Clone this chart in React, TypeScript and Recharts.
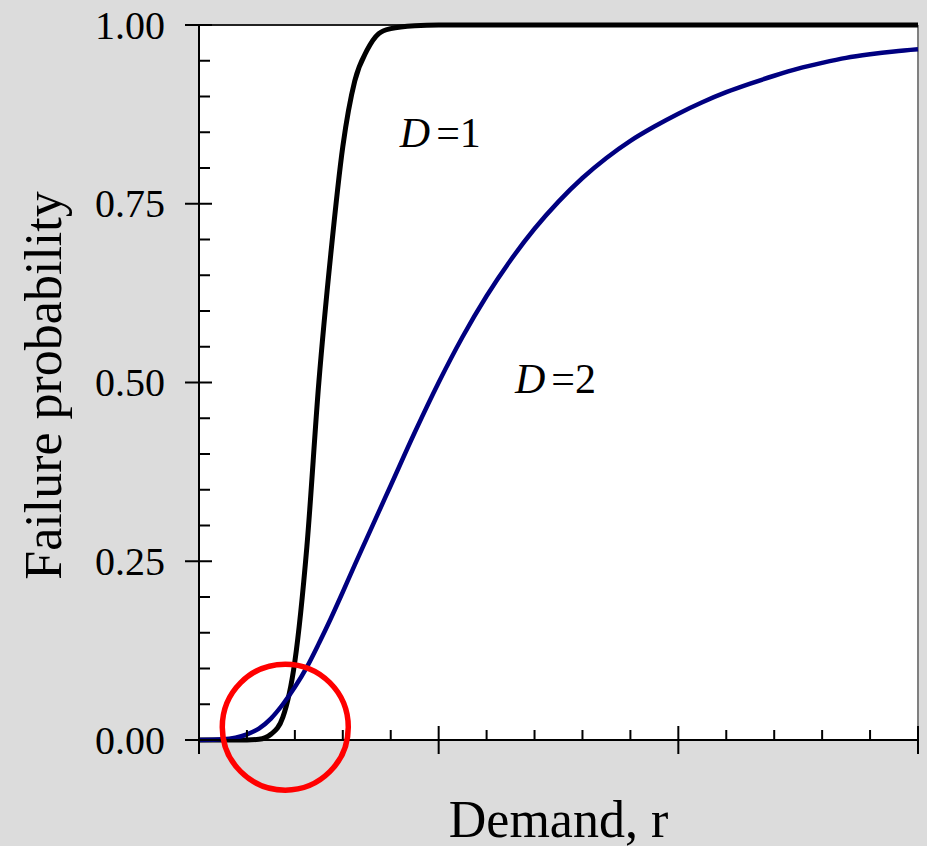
import { LineChart, Line, XAxis, YAxis, CartesianGrid, ReferenceLine, ReferenceDot } from 'recharts';

const FONT = '"Liberation Serif", "Times New Roman", Times, serif';

// demand r (arbitrary units, 0..15) and failure probability for D=1 / D=2
const demand = [0, 0.5, 1, 1.25, 1.5, 1.75, 2, 2.25, 2.5, 2.75, 3, 3.25, 3.5, 3.75, 4, 4.5, 5, 5.5, 6, 6.5, 7, 7.5, 8, 8.5, 9, 9.5, 10, 10.5, 11, 11.5, 12, 12.5, 13, 13.5, 14, 14.5, 15];
const failD1 = [0, 0, 0, 0.001, 0.008, 0.032, 0.11, 0.27, 0.5, 0.68, 0.83, 0.922, 0.964, 0.988, 0.995, 0.999, 1, 1, 1, 1, 1, 1, 1, 1, 1, 1, 1, 1, 1, 1, 1, 1, 1, 1, 1, 1, 1];
const failD2 = [0, 0.001, 0.008, 0.016, 0.03, 0.05, 0.074, 0.102, 0.135, 0.17, 0.207, 0.245, 0.282, 0.319, 0.356, 0.43, 0.5, 0.564, 0.621, 0.671, 0.715, 0.753, 0.786, 0.814, 0.838, 0.858, 0.876, 0.892, 0.906, 0.918, 0.929, 0.939, 0.947, 0.954, 0.959, 0.963, 0.966];

const yTicks = [0, 0.05, 0.1, 0.15, 0.2, 0.25, 0.3, 0.35, 0.4, 0.45, 0.5, 0.55, 0.6, 0.65, 0.7, 0.75, 0.8, 0.85, 0.9, 0.95, 1];
const yMajor = [0, 0.25, 0.5, 0.75, 1];
const xTicks = [0, 1, 2, 3, 4, 5, 6, 7, 8, 9, 10, 11, 12, 13, 14, 15];
const xMajor = [0, 5, 10, 15];

const data = demand.map((r, i) => ({ r, d1: failD1[i], d2: failD2[i] }));

function YTick({ x, y, payload }: any) {
  const v = payload.value;
  const major = yMajor.some((m) => Math.abs(m - v) < 1e-6);
  if (!major) {
    return <line x1={x} x2={x + 11} y1={y} y2={y} stroke="#000" strokeWidth={2} />;
  }
  return (
    <g>
      <line x1={x - 14} x2={x + 13} y1={y} y2={y} stroke="#000" strokeWidth={2} />
      <text x={x - 34} y={y} dy="0.34em" textAnchor="end" fontSize={40} fontFamily={FONT} fill="#000">
        {v.toFixed(2)}
      </text>
    </g>
  );
}

function XTick({ x, y, payload }: any) {
  const major = xMajor.includes(payload.value);
  if (major) return <line x1={x} x2={x} y1={y - 14} y2={y + 14} stroke="#000" strokeWidth={2} />;
  return <line x1={x} x2={x} y1={y} y2={y - 10} stroke="#000" strokeWidth={2} />;
}

const curveLabel = (n: string) => (props: any) => {
  const vb = props.viewBox;
  return (
    <text x={vb.x} y={vb.y} fontSize={42} fontFamily={FONT} fill="#000">
      <tspan fontStyle="italic">D</tspan>
      <tspan dx={6}>={n}</tspan>
    </text>
  );
};

export default function App() {
  return (
    <div style={{ position: 'absolute', left: 0, top: 0, width: 927, height: 846, background: '#dcdcdc' }}>
      <LineChart width={927} height={846} data={data} margin={{ top: 25, right: 9, bottom: 0, left: 0 }}>
        <CartesianGrid fill="#fff" horizontal={false} vertical={false} />
        <XAxis
          dataKey="r"
          type="number"
          domain={[0, 15]}
          ticks={xTicks}
          interval={0}
          height={106}
          tickSize={0}
          tickMargin={0}
          tickLine={false}
          axisLine={{ stroke: '#000', strokeWidth: 2 }}
          tick={(p) => <XTick {...p} />}
          label={{ value: 'Demand, r', position: 'insideBottom', offset: 9, fontSize: 52, fontFamily: FONT, fill: '#000' }}
        />
        <YAxis
          type="number"
          domain={[0, 1]}
          ticks={yTicks}
          interval={0}
          width={199}
          tickSize={0}
          tickMargin={0}
          tickLine={false}
          axisLine={{ stroke: '#000', strokeWidth: 2 }}
          tick={(p) => <YTick {...p} />}
          label={{
            content: (props: any) => {
              const vb = props.viewBox;
              const cx = vb.x + 61;
              const cy = vb.y + vb.height / 2 + 3;
              return (
                <text x={cx} y={cy} transform={`rotate(-90 ${cx} ${cy})`} textAnchor="middle" fontSize={52} fontFamily={FONT} fill="#000">
                  Failure probability
                </text>
              );
            },
          }}
        />
        <ReferenceLine y={1} stroke="#222" strokeWidth={2} />
        <ReferenceLine x={15} stroke="#808080" strokeWidth={2} />
        <Line type="monotone" dataKey="d1" stroke="#000" strokeWidth={5} dot={false} isAnimationActive={false} />
        <Line type="monotone" dataKey="d2" stroke="#000080" strokeWidth={4.5} dot={false} isAnimationActive={false} />
        <ReferenceDot x={4.19} y={0.829} r={0} fill="none" stroke="none" label={curveLabel('1')} />
        <ReferenceDot x={6.59} y={0.485} r={0} fill="none" stroke="none" label={curveLabel('2')} />
        <ReferenceDot x={1.8} y={0.018} r={63} fill="none" stroke="#ff0000" strokeWidth={5.5} />
      </LineChart>
    </div>
  );
}
